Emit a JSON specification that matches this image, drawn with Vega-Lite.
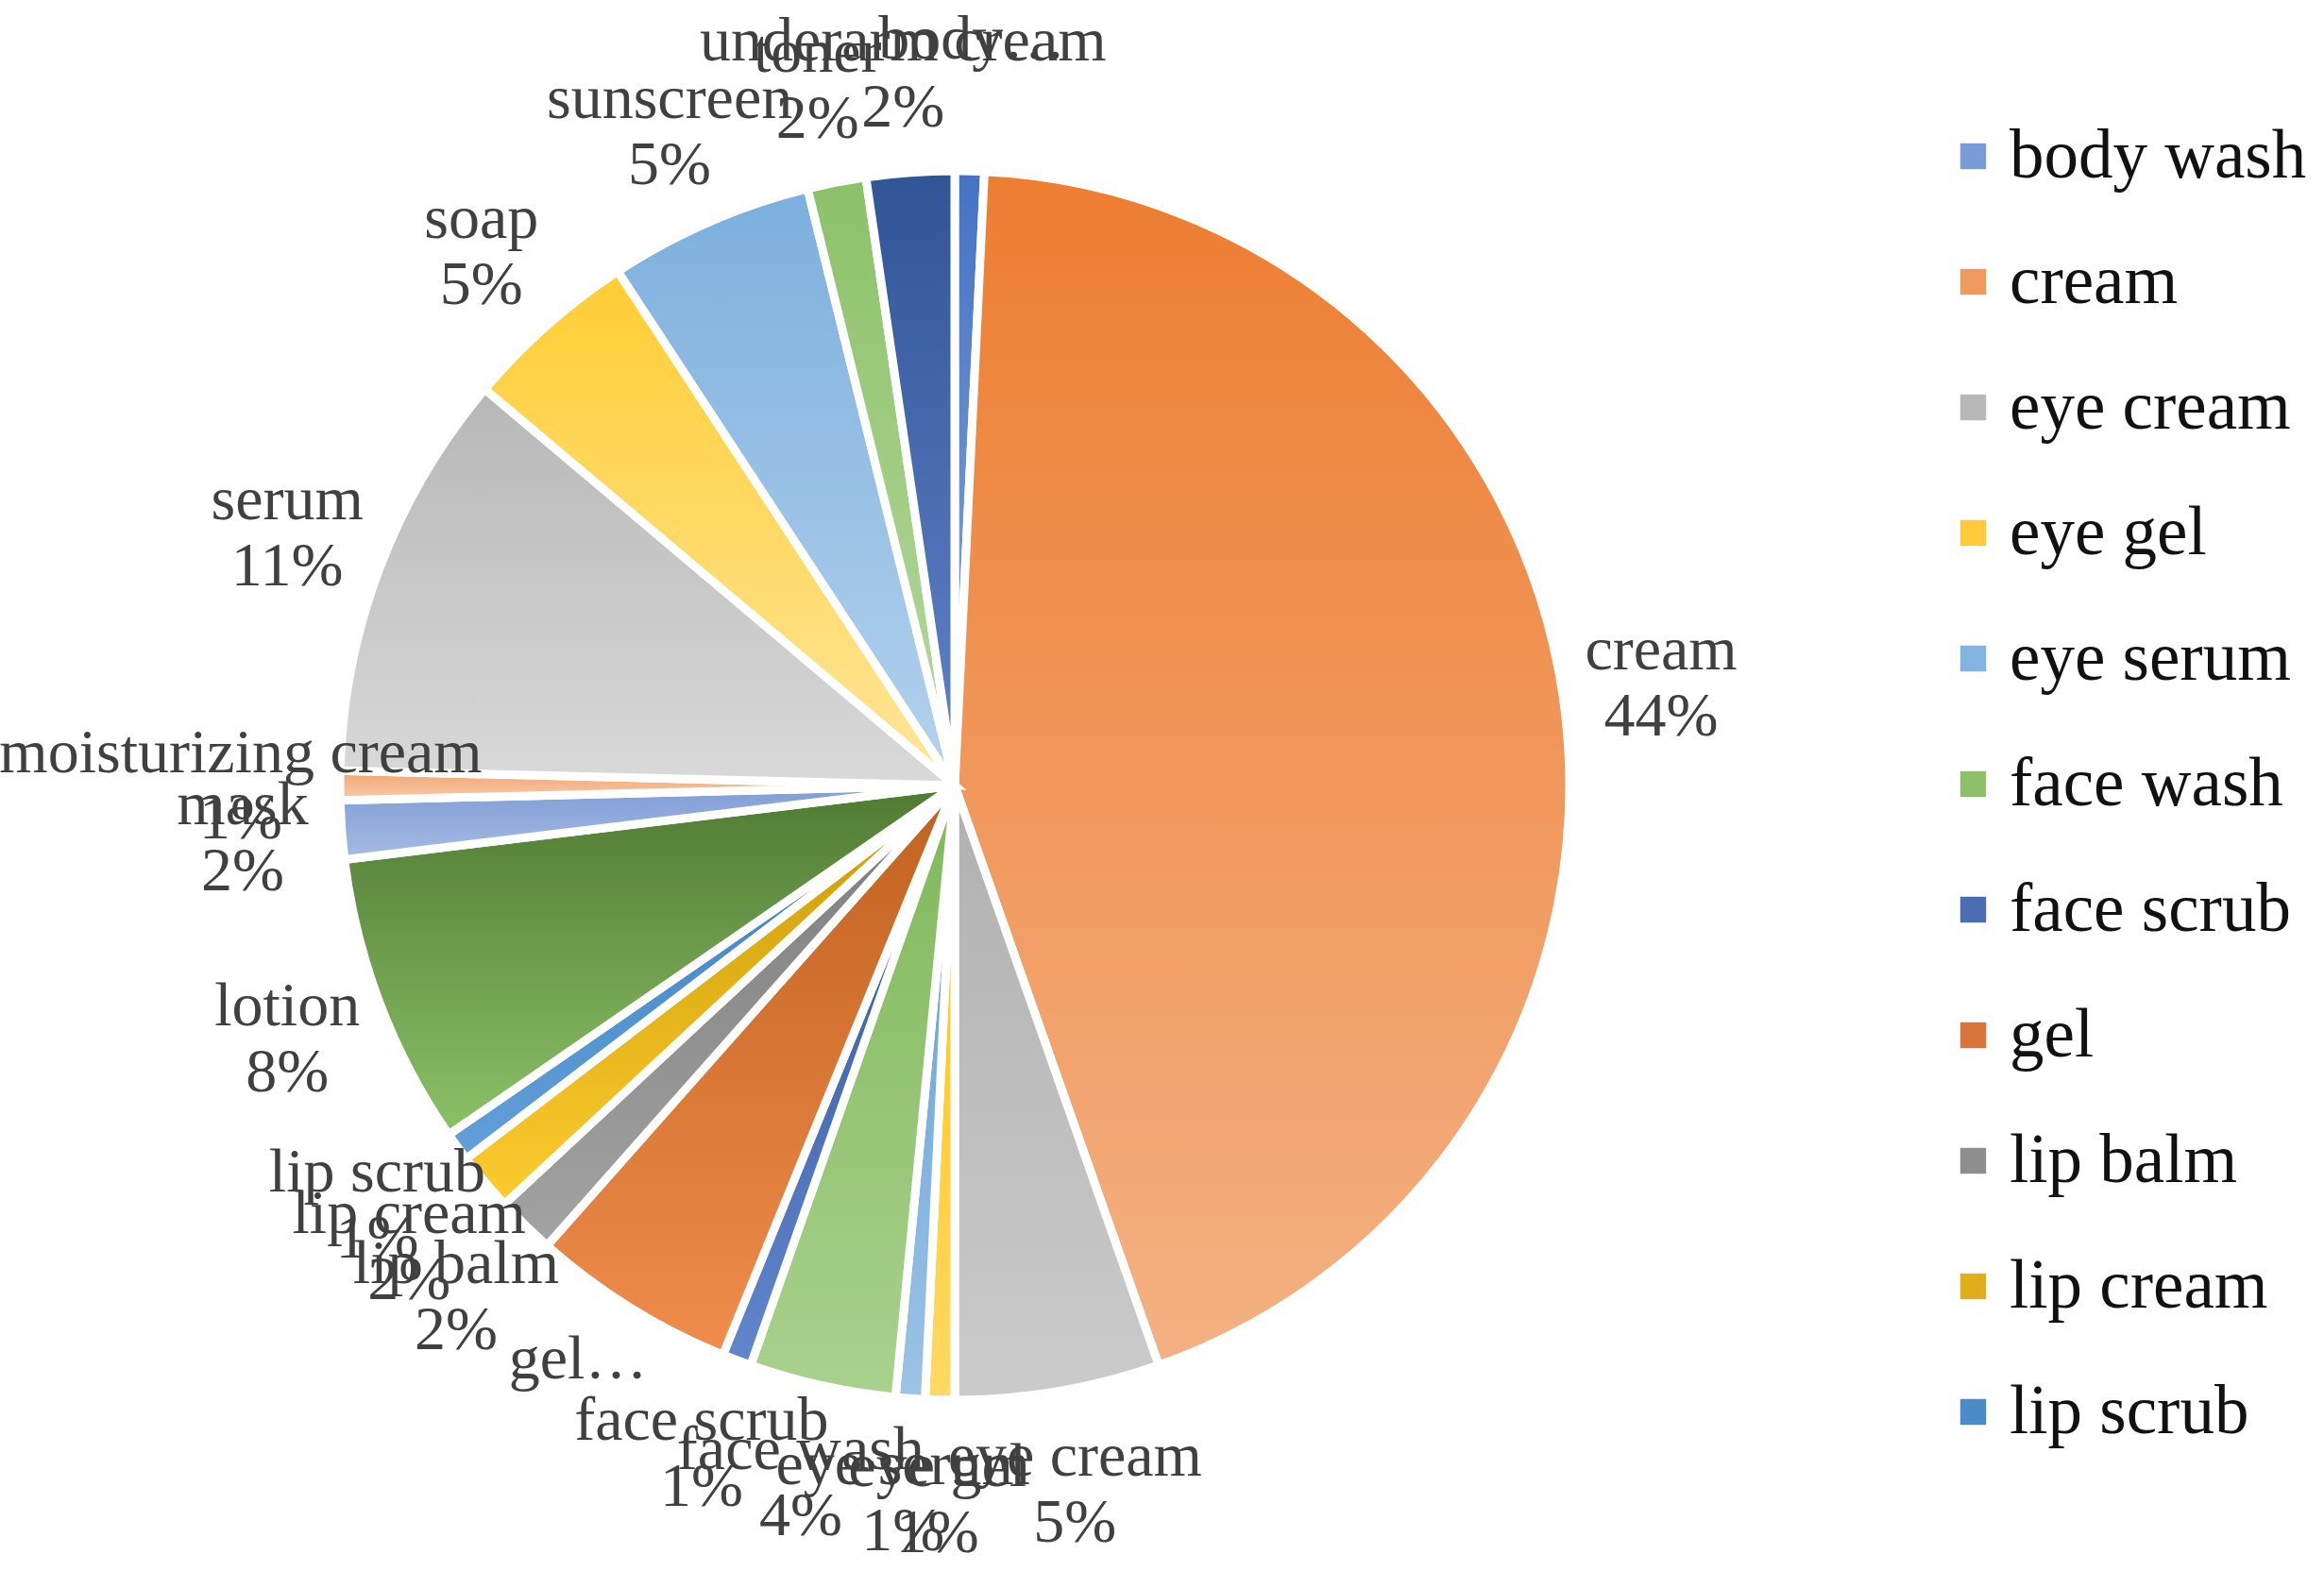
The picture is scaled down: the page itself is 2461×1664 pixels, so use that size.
{
  "$schema": "https://vega.github.io/schema/vega-lite/v6.json",
  "width": 2022,
  "height": 1664,
  "padding": {"left": 0, "top": 0, "right": 439, "bottom": 0},
  "autosize": {"type": "none"},
  "background": "#ffffff",
  "config": {"view": {"stroke": null}, "font": "Liberation Serif"},
  "data": {
    "values": [
      {"rank": 1, "product": "body wash", "count": 1, "label": "body…", "pct": ""},
      {"rank": 2, "product": "cream", "count": 57, "label": "cream", "pct": "44%"},
      {"rank": 3, "product": "eye cream", "count": 7, "label": "eye cream", "pct": "5%"},
      {"rank": 4, "product": "eye gel", "count": 1, "label": "eye gel", "pct": "1%"},
      {"rank": 5, "product": "eye serum", "count": 1, "label": "eye serum", "pct": "1%"},
      {"rank": 6, "product": "face wash", "count": 5, "label": "face wash", "pct": "4%"},
      {"rank": 7, "product": "face scrub", "count": 1, "label": "face scrub", "pct": "1%"},
      {"rank": 8, "product": "gel", "count": 7, "label": "gel…", "pct": ""},
      {"rank": 9, "product": "lip balm", "count": 2, "label": "lip balm", "pct": "2%"},
      {"rank": 10, "product": "lip cream", "count": 2, "label": "lip cream", "pct": "2%"},
      {"rank": 11, "product": "lip scrub", "count": 1, "label": "lip scrub", "pct": "1%"},
      {"rank": 12, "product": "lotion", "count": 10, "label": "lotion", "pct": "8%"},
      {"rank": 13, "product": "mask", "count": 2, "label": "mask", "pct": "2%"},
      {"rank": 14, "product": "moisturizing cream", "count": 1, "label": "moisturizing cream", "pct": "1%"},
      {"rank": 15, "product": "serum", "count": 14, "label": "serum", "pct": "11%"},
      {"rank": 16, "product": "soap", "count": 6, "label": "soap", "pct": "5%"},
      {"rank": 17, "product": "sunscreen", "count": 7, "label": "sunscreen", "pct": "5%"},
      {"rank": 18, "product": "toner", "count": 2, "label": "toner", "pct": "2%"},
      {"rank": 19, "product": "underarm cream", "count": 3, "label": "underarm cream", "pct": "2%"}
    ]
  },
  "encoding": {
    "theta": {"field": "count", "type": "quantitative", "stack": true},
    "order": {"field": "rank", "type": "quantitative", "sort": "ascending"}
  },
  "layer": [
    {
      "mark": {"type": "arc", "outerRadius": 651, "stroke": "#ffffff", "strokeWidth": 9},
      "encoding": {
        "color": {
          "field": "product",
          "type": "nominal",
          "condition": [
            {"test": "datum.product === 'body wash'", "value": {"gradient": "linear", "x1": 0, "y1": 0, "x2": 0, "y2": 1, "stops": [{"offset": 0, "color": "#4472C4"}, {"offset": 1, "color": "#8FAADC"}]}},
            {"test": "datum.product === 'cream'", "value": {"gradient": "linear", "x1": 0, "y1": 0, "x2": 0, "y2": 1, "stops": [{"offset": 0, "color": "#ED7D31"}, {"offset": 1, "color": "#F4B183"}]}},
            {"test": "datum.product === 'eye cream'", "value": {"gradient": "linear", "x1": 0, "y1": 0, "x2": 0, "y2": 1, "stops": [{"offset": 0, "color": "#B0B0B0"}, {"offset": 1, "color": "#CBCBCB"}]}},
            {"test": "datum.product === 'eye gel'", "value": {"gradient": "linear", "x1": 0, "y1": 0, "x2": 0, "y2": 1, "stops": [{"offset": 0, "color": "#FFC000"}, {"offset": 1, "color": "#FFD966"}]}},
            {"test": "datum.product === 'eye serum'", "value": {"gradient": "linear", "x1": 0, "y1": 0, "x2": 0, "y2": 1, "stops": [{"offset": 0, "color": "#5B9BD5"}, {"offset": 1, "color": "#9DC3E6"}]}},
            {"test": "datum.product === 'face wash'", "value": {"gradient": "linear", "x1": 0, "y1": 0, "x2": 0, "y2": 1, "stops": [{"offset": 0, "color": "#80B85A"}, {"offset": 1, "color": "#A9D18E"}]}},
            {"test": "datum.product === 'face scrub'", "value": {"gradient": "linear", "x1": 0, "y1": 0, "x2": 0, "y2": 1, "stops": [{"offset": 0, "color": "#2F5597"}, {"offset": 1, "color": "#6286CC"}]}},
            {"test": "datum.product === 'gel'", "value": {"gradient": "linear", "x1": 0, "y1": 0, "x2": 0, "y2": 1, "stops": [{"offset": 0, "color": "#C0621F"}, {"offset": 1, "color": "#F08C4C"}]}},
            {"test": "datum.product === 'lip balm'", "value": {"gradient": "linear", "x1": 0, "y1": 0, "x2": 0, "y2": 1, "stops": [{"offset": 0, "color": "#7B7B7B"}, {"offset": 1, "color": "#A3A3A3"}]}},
            {"test": "datum.product === 'lip cream'", "value": {"gradient": "linear", "x1": 0, "y1": 0, "x2": 0, "y2": 1, "stops": [{"offset": 0, "color": "#C99A05"}, {"offset": 1, "color": "#FCCB2E"}]}},
            {"test": "datum.product === 'lip scrub'", "value": {"gradient": "linear", "x1": 0, "y1": 0, "x2": 0, "y2": 1, "stops": [{"offset": 0, "color": "#3A7DBE"}, {"offset": 1, "color": "#62A0D8"}]}},
            {"test": "datum.product === 'lotion'", "value": {"gradient": "linear", "x1": 0, "y1": 0, "x2": 0, "y2": 1, "stops": [{"offset": 0, "color": "#507A33"}, {"offset": 1, "color": "#8CC168"}]}},
            {"test": "datum.product === 'mask'", "value": {"gradient": "linear", "x1": 0, "y1": 0, "x2": 0, "y2": 1, "stops": [{"offset": 0, "color": "#7F9DD6"}, {"offset": 1, "color": "#A6BBE3"}]}},
            {"test": "datum.product === 'moisturizing cream'", "value": {"gradient": "linear", "x1": 0, "y1": 0, "x2": 0, "y2": 1, "stops": [{"offset": 0, "color": "#F3A46E"}, {"offset": 1, "color": "#F8CBAD"}]}},
            {"test": "datum.product === 'serum'", "value": {"gradient": "linear", "x1": 0, "y1": 0, "x2": 0, "y2": 1, "stops": [{"offset": 0, "color": "#B7B7B7"}, {"offset": 1, "color": "#D9D9D9"}]}},
            {"test": "datum.product === 'soap'", "value": {"gradient": "linear", "x1": 0, "y1": 0, "x2": 0, "y2": 1, "stops": [{"offset": 0, "color": "#FFCD33"}, {"offset": 1, "color": "#FFE699"}]}},
            {"test": "datum.product === 'sunscreen'", "value": {"gradient": "linear", "x1": 0, "y1": 0, "x2": 0, "y2": 1, "stops": [{"offset": 0, "color": "#7CAFDD"}, {"offset": 1, "color": "#B4D2EE"}]}},
            {"test": "datum.product === 'toner'", "value": {"gradient": "linear", "x1": 0, "y1": 0, "x2": 0, "y2": 1, "stops": [{"offset": 0, "color": "#8CC168"}, {"offset": 1, "color": "#B7D9A0"}]}},
            {"test": "datum.product === 'underarm cream'", "value": {"gradient": "linear", "x1": 0, "y1": 0, "x2": 0, "y2": 1, "stops": [{"offset": 0, "color": "#2F5597"}, {"offset": 1, "color": "#6283C8"}]}}
          ],
          "scale": {
            "domain": ["body wash", "cream", "eye cream", "eye gel", "eye serum", "face wash", "face scrub", "gel", "lip balm", "lip cream", "lip scrub", "lotion", "mask", "moisturizing cream", "serum", "soap", "sunscreen", "toner", "underarm cream"],
            "range": ["#7A9BD6", "#F19A5E", "#B8B8B8", "#FFCB3A", "#83B3E0", "#8EBF6B", "#4A6DB3", "#D9743A", "#8E8E8E", "#E0AE1A", "#4A8BC8", "#6E9E4E", "#8CA6DA", "#F5B185", "#C8C8C8", "#FFDA66", "#98C1E6", "#A2CD84", "#4869AF"]
          },
          "legend": {
            "orient": "none",
            "legendX": 2053,
            "legendY": 129,
            "title": null,
            "values": ["body wash", "cream", "eye cream", "eye gel", "eye serum", "face wash", "face scrub", "gel", "lip balm", "lip cream", "lip scrub"],
            "symbolType": "square",
            "symbolSize": 750,
            "symbolStrokeWidth": 0,
            "labelFontSize": 73,
            "labelFont": "Liberation Serif",
            "labelColor": "#111111",
            "labelOffset": 2,
            "labelLimit": 0,
            "rowPadding": 59,
            "padding": 0
          }
        }
      }
    },
    {
      "mark": {"type": "text", "radius": 756, "dy": -34, "fontSize": 66, "font": "Liberation Serif", "fill": "#404040"},
      "encoding": {
        "detail": {"field": "product", "type": "nominal"},
        "text": {"field": "label", "type": "nominal"}
      }
    },
    {
      "mark": {"type": "text", "radius": 756, "dy": 36, "fontSize": 66, "font": "Liberation Serif", "fill": "#404040"},
      "encoding": {
        "detail": {"field": "product", "type": "nominal"},
        "text": {"field": "pct", "type": "nominal"}
      }
    }
  ]
}
